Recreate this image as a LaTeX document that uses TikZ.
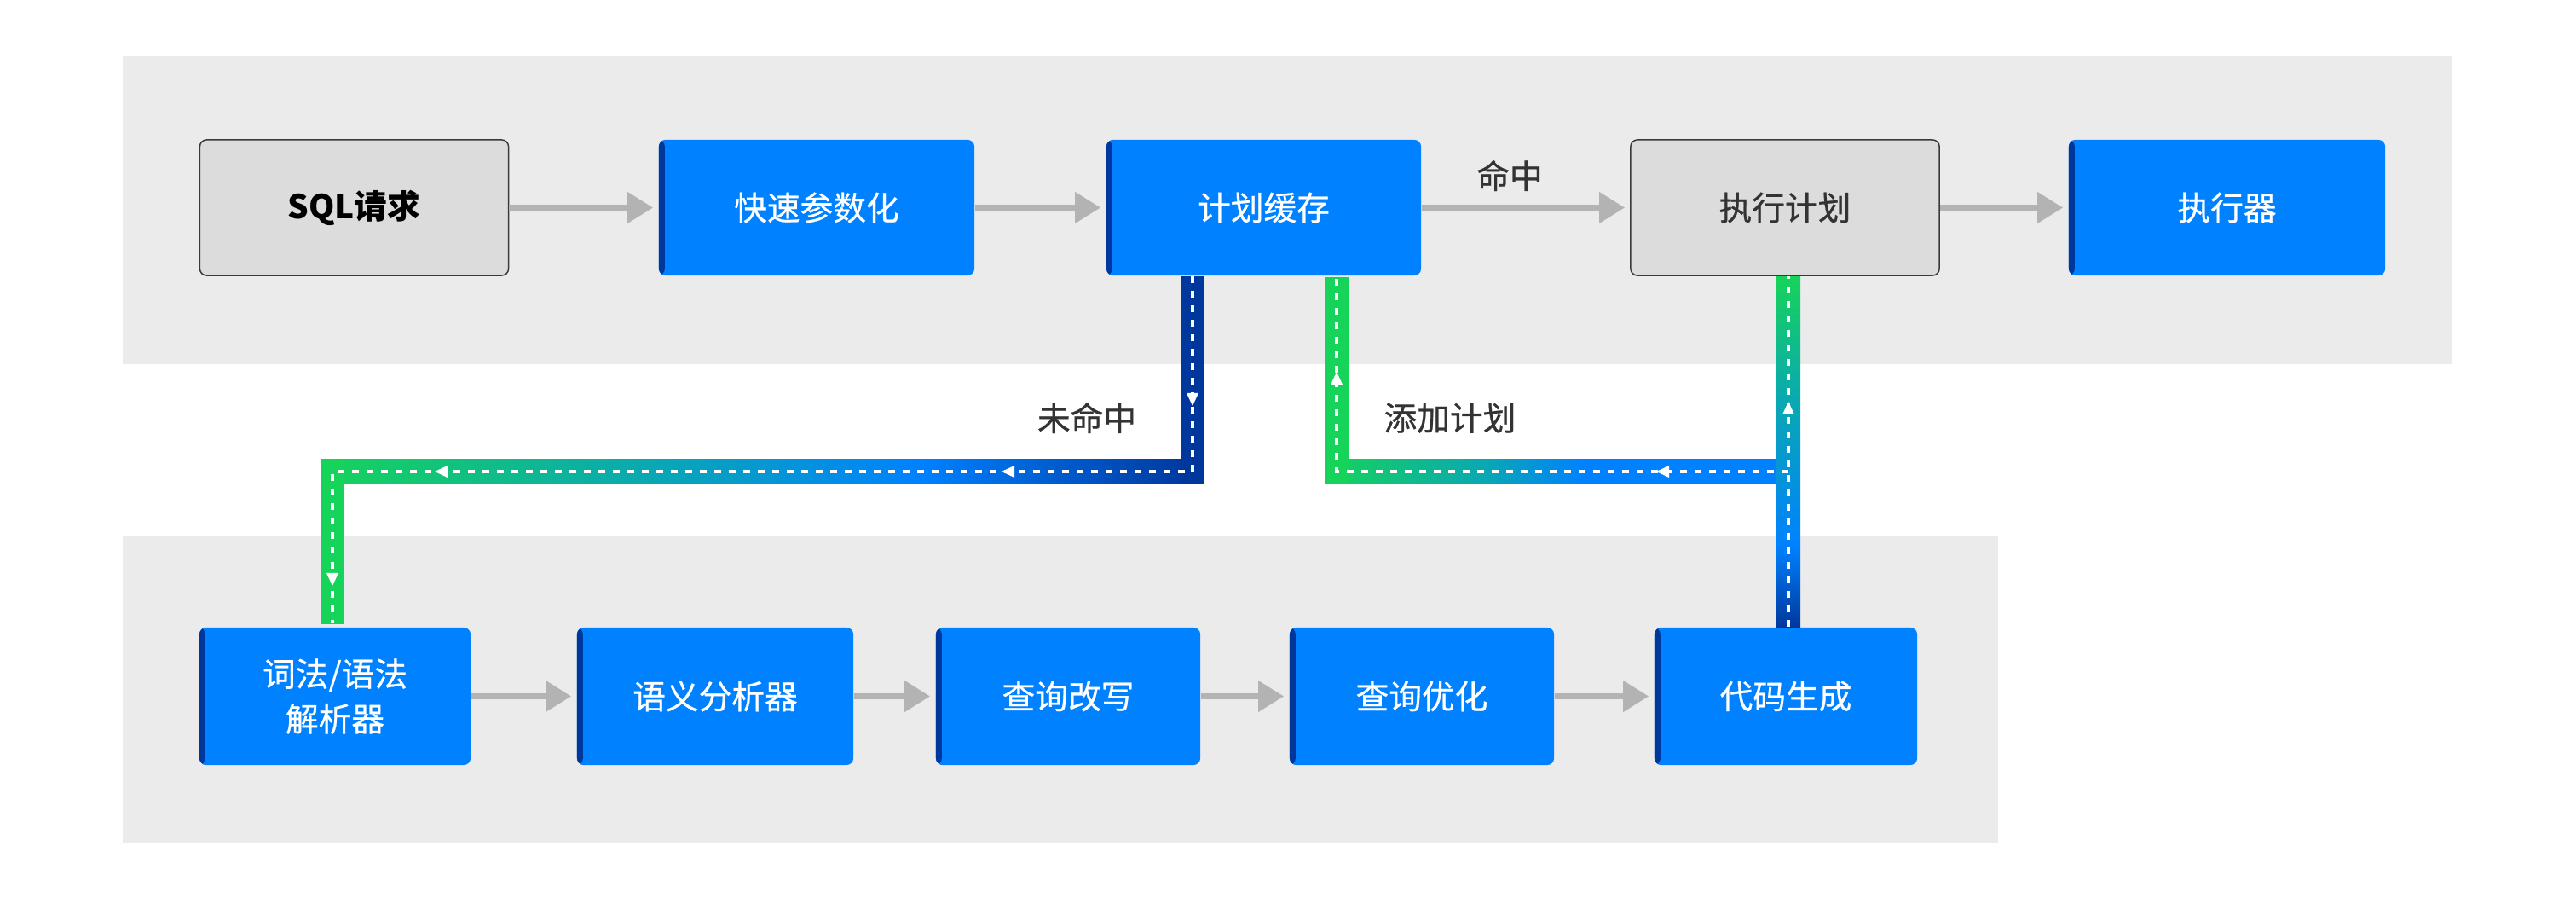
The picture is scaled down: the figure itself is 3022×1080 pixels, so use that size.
\documentclass[tikz,border=0pt]{standalone}
\usepackage{fontspec}
\setmainfont{Noto Sans CJK SC}
\newfontfamily\medfont{Noto Sans CJK SC}[FakeBold=0.6]
\usetikzlibrary{arrows.meta,calc}
\definecolor{bandc}{HTML}{EBEBEB}
\definecolor{gboxc}{HTML}{DCDCDC}
\definecolor{gborderc}{HTML}{3A3A3A}
\definecolor{bboxc}{HTML}{0081FF}
\definecolor{dbluec}{HTML}{00379D}
\definecolor{greenc}{HTML}{16D35A}
\definecolor{tealc}{HTML}{0AA8B2}
\definecolor{arrgray}{HTML}{B3B3B3}
\definecolor{txtc}{HTML}{333333}
% shadings: the 25bp..75bp range is mapped onto the path extent
\pgfdeclarehorizontalshading{missband}{100bp}{color(0bp)=(greenc); color(25bp)=(greenc); color(43.75bp)=(tealc); color(59.4bp)=(bboxc); color(75bp)=(dbluec); color(100bp)=(dbluec)}
\pgfdeclarehorizontalshading{addband}{100bp}{color(0bp)=(greenc); color(25bp)=(greenc); color(42.3bp)=(tealc); color(53.5bp)=(bboxc); color(75bp)=(bboxc); color(100bp)=(bboxc)}
\pgfdeclareverticalshading{upband}{100bp}{color(0bp)=(dbluec); color(25bp)=(dbluec); color(36.6bp)=(bboxc); color(57.2bp)=(tealc); color(75bp)=(greenc); color(100bp)=(greenc)}
\begin{document}
\begin{tikzpicture}[x=0.01cm,y=-0.01cm,
  base/.style={rounded corners=0.08cm, inner sep=0pt, align=center,
    font=\fontsize{11pt}{15pt}\selectfont\medfont},
  graybox/.style={base, fill=gboxc, draw=gborderc, line width=0.015cm, text=txtc,
    minimum width=3.62cm, minimum height=1.59cm},
  bluebox/.style={base, fill=bboxc, text=white,
    path picture={\fill[dbluec] (path picture bounding box.north west) rectangle ([xshift=0.07cm]path picture bounding box.south west);}},
  toprow/.style={minimum height=1.59cm},
  botrow/.style={minimum height=1.61cm},
  flow/.style={draw=arrgray, line width=0.07cm, -{Triangle[length=0.30cm,width=0.35cm]}},
  lbl/.style={text=txtc, font=\fontsize{11pt}{13pt}\selectfont\medfont},
  whitedash/.style={draw=white, line width=0.04cm, dash pattern=on 0.08cm off 0.09cm},
  tipmark/.style={fill=white}
]
\useasboundingbox (0,0) rectangle (3022,1080);
\fill[white] (0,0) rectangle (3022,1080);
% bands
\fill[bandc] (144,66) rectangle (2877,427);
\fill[bandc] (144,628) rectangle (2344,989);

% nodes
\node[graybox, font=\fontsize{11pt}{15pt}\selectfont\normalfont\bfseries, text=black] (sql) at (415.5,243.5) {SQL请求};
\node[bluebox, toprow, minimum width=3.70cm] (fast) at (958,243.5) {快速参数化};
\node[bluebox, toprow, minimum width=3.69cm] (cache) at (1482.5,243.5) {计划缓存};
\node[graybox] (plan) at (2094,243.5) {执行计划};
\node[bluebox, toprow, minimum width=3.71cm] (exec) at (2612.5,243.5) {执行器};

\node[bluebox, botrow, minimum width=3.18cm] (lex) at (393,816.5) {词法/语法\\解析器};
\node[bluebox, botrow, minimum width=3.24cm] (sem) at (839,816.5) {语义分析器};
\node[bluebox, botrow, minimum width=3.10cm] (rew) at (1253,816.5) {查询改写};
\node[bluebox, botrow, minimum width=3.10cm] (opt) at (1668,816.5) {查询优化};
\node[bluebox, botrow, minimum width=3.08cm] (gen) at (2095,816.5) {代码生成};

% gray flow arrows
\draw[flow, shorten >=0.06cm] (sql.east) -- (fast.west);
\draw[flow, shorten >=0.06cm] (fast.east) -- (cache.west);
\draw[flow, shorten >=0.06cm] (cache.east) -- (plan.west);
\draw[flow, shorten >=0.06cm] (plan.east) -- (exec.west);
\draw[flow, shorten >=0.06cm] (lex.east) -- (sem.west);
\draw[flow, shorten >=0.06cm] (sem.east) -- (rew.west);
\draw[flow, shorten >=0.06cm] (rew.east) -- (opt.west);
\draw[flow, shorten >=0.06cm] (opt.east) -- (gen.west);

\node[lbl] (hit) at (1771,206) {命中};
\node[lbl] (miss) at (1275,490) {未命中};
\node[lbl] (addp) at (1701,490) {添加计划};

% route coordinates
\coordinate (mA) at ($(cache.south)+(-83.5,0)$);   % x 1399
\coordinate (mB) at (mA |- 0,553);
\coordinate (mD) at ($(lex.north)+(-3,0)$);        % x 390
\coordinate (mC) at (mD |- 0,553);
\coordinate (aA) at ($(gen.north)+(3,0)$);         % x 2098
\coordinate (aTop) at (aA |- plan.south);
\coordinate (aB) at (aA |- 0,553);
\coordinate (aD) at ($(cache.south)+(85.5,0)$);    % x 1568
\coordinate (aC) at (aD |- 0,553);

% ---- 未命中 thick band ----
\shade[shading=missband] (376,539) rectangle (1400,567);
\fill[dbluec] ($(mA)+(-14,0)$) rectangle ($(mB)+(14,14)$);
\fill[greenc] ($(mC)+(-14,-14)$) rectangle ($(mD)+(14,-3)$);

% ---- 添加计划 thick band ----
\shade[shading=addband] (1554,539) rectangle (2090,567);
\fill[greenc] ($(aD)+(-14,1)$) rectangle ($(aC)+(14,14)$);
\shade[shading=upband] ($(aTop)+(-14,1)$) rectangle ($(aA)+(14,0)$);

% ---- white dashed flow lines ----
\draw[whitedash] (mA) -- (mB) -- (mC) -- ($(mD)+(0,-4)$);
\draw[whitedash] (aA) -- (aTop);
\draw[whitedash] (aB) -- (aC) -- (aD);

% small arrow tips on the dashed lines
\fill[tipmark] (1399,476) -- ++(-7,-15) -- ++(14,0) -- cycle;
\fill[tipmark] (1175,553) -- ++(15,-7) -- ++(0,14) -- cycle;
\fill[tipmark] (510,553) -- ++(15,-7) -- ++(0,14) -- cycle;
\fill[tipmark] (390,687) -- ++(-7,-15) -- ++(14,0) -- cycle;
\fill[tipmark] (1568,436) -- ++(-7,15) -- ++(14,0) -- cycle;
\fill[tipmark] (1943,553) -- ++(15,-7) -- ++(0,14) -- cycle;
\fill[tipmark] (2098,471) -- ++(-7,15) -- ++(14,0) -- cycle;
\end{tikzpicture}
\end{document}
